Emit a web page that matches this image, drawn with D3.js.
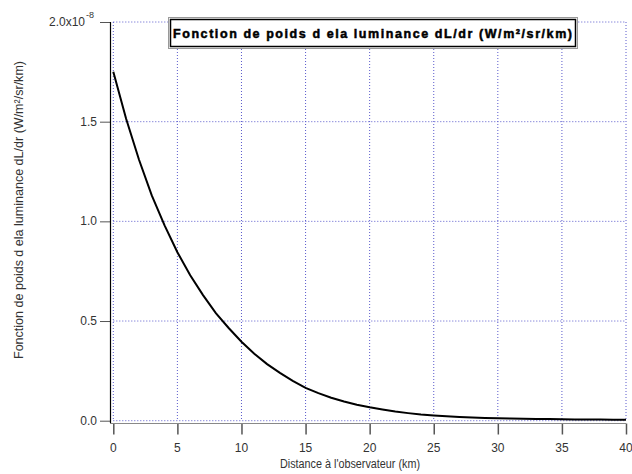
<!DOCTYPE html>
<html><head><meta charset="utf-8">
<script src="https://cdn.jsdelivr.net/npm/d3@7"></script>
<style>
body{margin:0;background:#fff;}
svg{display:block;font-family:"Liberation Sans",Arial,sans-serif;}
</style></head>
<body>
<svg id="c" width="632" height="474"></svg>
<script>
// Data (values in units of 1e-8 W/m²/sr/km)
const distances = [0,1,2,3,4,5,6,7,8,9,10,11,12,13,14,15,16,17,18,19,20,21,22,23,24,25,26,27,28,29,30,31,32,33,34,35,36,37,38,39,40];
const values = [1.75,1.515,1.31,1.13,0.98,0.845,0.73,0.63,0.54,0.465,0.396,0.336,0.284,0.24,0.2,0.165,0.138,0.115,0.096,0.08,0.067,0.056,0.046,0.038,0.031,0.026,0.022,0.019,0.016,0.014,0.012,0.011,0.010,0.009,0.008,0.007,0.0065,0.006,0.0055,0.005,0.005];
const xTicks = [0,5,10,15,20,25,30,35,40];
const yTicks = [0,0.5,1.0,1.5,2.0];
const yTickLabels = ["0.0","0.5","1.0","1.5","2.0x10"];
const titleText = "Fonction de poids d ela luminance dL/dr (W/m²/sr/km)";
const yLabelText = "Fonction de poids d ela luminance dL/dr (W/m²/sr/km)";
const xLabelText = "Distance à l'observateur (km)";

const svg = d3.select("#c");
const x = d3.scaleLinear().domain([0,40]).range([113.3,626]);
const y = d3.scaleLinear().domain([0,2]).range([420.7,22]);

// grid
const grid = svg.append("g");
grid.selectAll("line.v").data(xTicks).join("line")
  .attr("x1",d=>x(d)).attr("x2",d=>x(d)).attr("y1",y(2)).attr("y2",y(0))
  .attr("stroke","#5a5acc").attr("stroke-width",1).attr("stroke-dasharray","1,2");
grid.selectAll("line.h").data(yTicks).join("line")
  .attr("x1",x(0)).attr("x2",x(40)).attr("y1",d=>y(d)).attr("y2",d=>y(d))
  .attr("stroke","#5a5acc").attr("stroke-width",1).attr("stroke-dasharray","1,2");

// y axis
const yAxis = d3.axisLeft(y).tickValues(yTicks).tickSize(10).tickFormat("");
const gy = svg.append("g").attr("transform","translate(110,0)").call(yAxis);
gy.select(".domain").remove();
gy.selectAll(".tick line").attr("stroke","#555");
svg.append("line").attr("x1",110.5).attr("x2",110.5).attr("y1",y(2)).attr("y2",423).attr("stroke","#000").attr("stroke-width",1.2);
svg.append("g").selectAll("text").data(yTicks).join("text")
  .attr("x",(d,i)=>i===4?85:97).attr("y",d=>y(d)+4).attr("text-anchor","end")
  .attr("font-size",12).attr("fill","#333")
  .text((d,i)=>yTickLabels[i]);
// exponent
svg.append("text").attr("x",86).attr("y",y(2)-4).attr("font-size",9).attr("fill","#333").text("-8");

// x axis
const xAxis = d3.axisBottom(x).tickValues(xTicks).tickSize(11).tickFormat("");
const gx = svg.append("g").attr("transform","translate(0,423.5)").call(xAxis);
gx.select(".domain").remove();
gx.selectAll(".tick line").attr("stroke","#555").attr("stroke-width",1.5);
svg.append("line").attr("x1",110).attr("x2",626).attr("y1",423.5).attr("y2",423.5).attr("stroke","#888").attr("stroke-width",1.2);
svg.append("g").selectAll("text").data(xTicks).join("text")
  .attr("x",d=>x(d)).attr("y",452).attr("text-anchor","middle")
  .attr("font-size",12).attr("fill","#333").text(d=>d);

// curve
const line = d3.line().x((d,i)=>x(distances[i])).y(d=>y(d));
svg.append("path").datum(values).attr("d",line)
  .attr("fill","none").attr("stroke","#000").attr("stroke-width",2);

// labels
svg.append("text").attr("transform","translate(23,210) rotate(-90)")
  .attr("text-anchor","middle").attr("font-size",12).attr("fill","#333")
  .attr("textLength",298).attr("lengthAdjust","spacingAndGlyphs").text(yLabelText);
svg.append("text").attr("x",350).attr("y",468).attr("text-anchor","middle")
  .attr("font-size",12).attr("fill","#333")
  .attr("textLength",140).attr("lengthAdjust","spacingAndGlyphs").text(xLabelText);

// title box
svg.append("rect").attr("x",168.5).attr("y",17.5).attr("width",409).attr("height",31)
  .attr("fill","#fff").attr("stroke","#999").attr("stroke-width",1);
svg.append("rect").attr("x",170.5).attr("y",19.5).attr("width",405).attr("height",27)
  .attr("fill","#fff").attr("stroke","#000").attr("stroke-width",1.5);
svg.append("text").attr("x",173).attr("y",38).attr("font-size",12.5).attr("font-weight","bold")
  .attr("fill","#000").attr("stroke","#000").attr("stroke-width",0.5)
  .attr("textLength",399).attr("lengthAdjust","spacing").text(titleText);
</script>
</body></html>
